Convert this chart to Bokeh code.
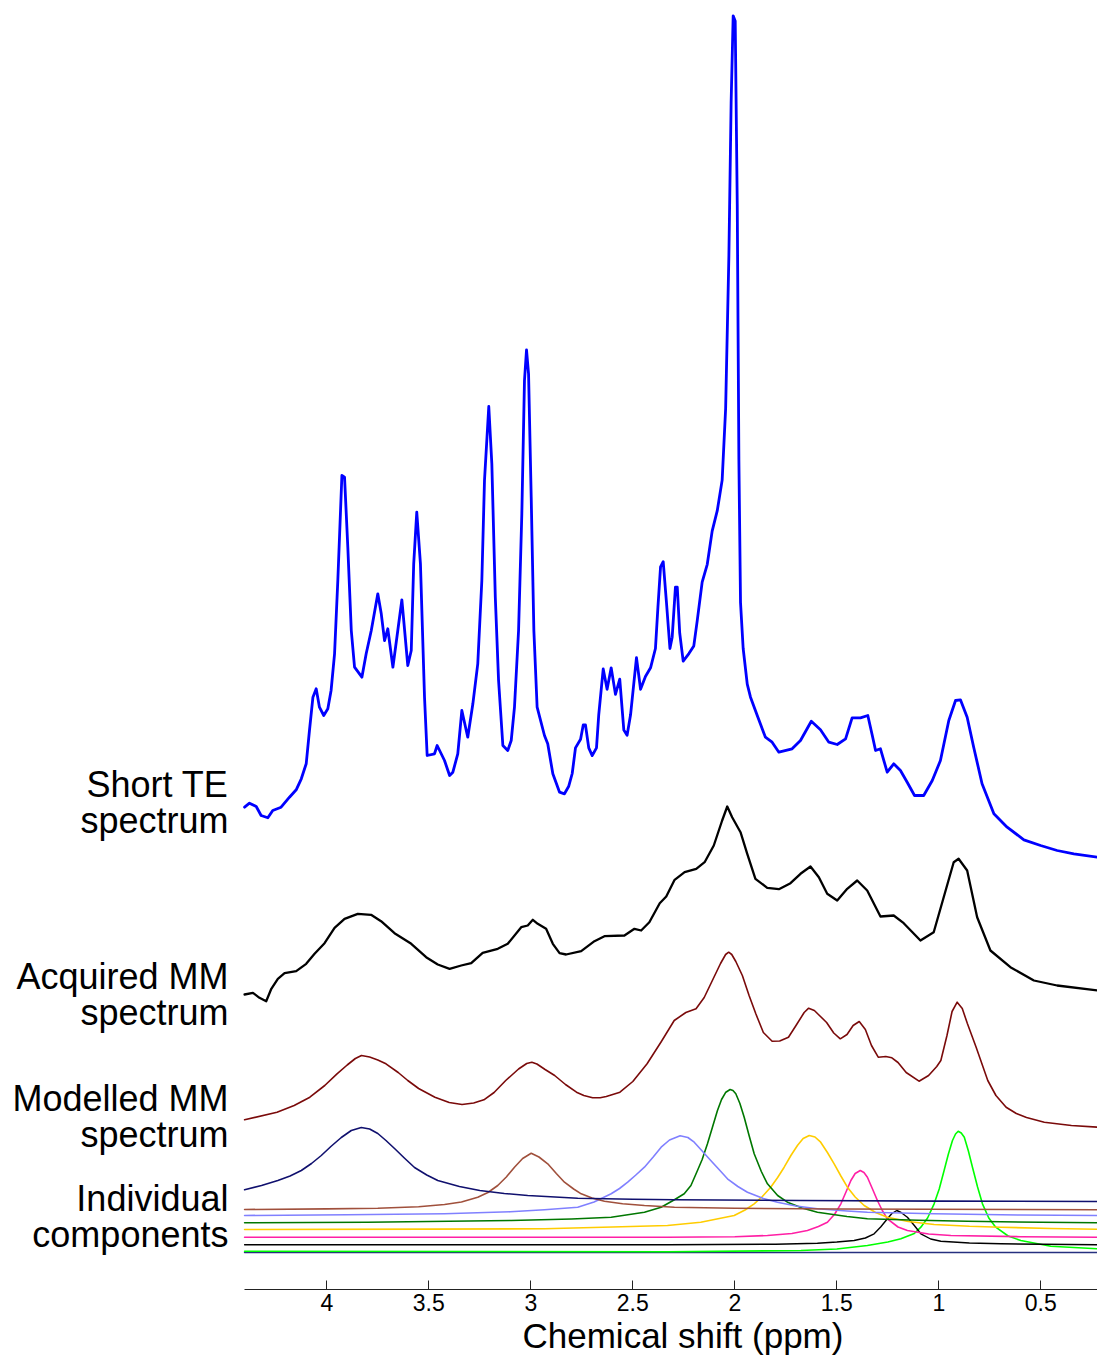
from bokeh.plotting import figure
from bokeh.models import Range1d, FixedTicker, Title
from bokeh.core.properties import value
from bokeh.embed import file_html
from bokeh.resources import INLINE

# ---------------- data (ppm, intensity above each trace's own baseline) ----------------
te_ppm = [4.403, 4.379, 4.346, 4.322, 4.289, 4.265, 4.224, 4.183, 4.150, 4.125, 4.101, 4.085, 4.068, 4.052,
          4.036, 4.015, 3.995, 3.979, 3.962, 3.946, 3.926, 3.913, 3.897, 3.880, 3.864, 3.828, 3.807, 3.782,
          3.750, 3.733, 3.717, 3.701, 3.676, 3.652, 3.632, 3.603, 3.586, 3.574, 3.559, 3.541, 3.521, 3.508,
          3.472, 3.459, 3.423, 3.398, 3.382, 3.358, 3.338, 3.309, 3.284, 3.260, 3.240, 3.227, 3.206, 3.191,
          3.174, 3.158, 3.137, 3.113, 3.096, 3.080, 3.060, 3.044, 3.031, 3.021, 3.011, 2.998, 2.985, 2.969,
          2.933, 2.917, 2.892, 2.859, 2.835, 2.814, 2.797, 2.781, 2.756, 2.743, 2.732, 2.716, 2.699, 2.678,
          2.667, 2.645, 2.626, 2.606, 2.585, 2.564, 2.544, 2.528, 2.511, 2.482, 2.462, 2.438, 2.413, 2.389,
          2.377, 2.364, 2.351, 2.335, 2.318, 2.307, 2.291, 2.282, 2.270, 2.253, 2.225, 2.201, 2.184, 2.160,
          2.135, 2.111, 2.086, 2.062, 2.045, 2.029, 2.018, 2.008, 1.998, 1.988, 1.980, 1.972, 1.959, 1.939,
          1.923, 1.890, 1.850, 1.817, 1.784, 1.719, 1.678, 1.625, 1.580, 1.539, 1.498, 1.457, 1.425, 1.384,
          1.348, 1.326, 1.310, 1.286, 1.253, 1.221, 1.188, 1.155, 1.119, 1.074, 1.032, 0.992, 0.951, 0.918,
          0.894, 0.861, 0.829, 0.788, 0.730, 0.665, 0.583, 0.501, 0.420, 0.338, 0.222]
te_val = [63.3, 67.3, 64.0, 55.0, 52.7, 60.0, 63.3, 73.3, 80.7, 91.7, 106.7, 140.0, 173.3, 181.7,
          163.3, 155.0, 161.7, 180.0, 216.7, 290.0, 395.0, 393.3, 323.3, 240.0, 203.3, 193.3, 216.7, 240.0,
          276.7, 256.7, 230.0, 241.7, 203.3, 240.0, 270.7, 205.0, 220.0, 306.7, 358.3, 306.7, 173.3, 115.0,
          116.7, 125.0, 110.0, 95.0, 98.3, 116.7, 160.0, 133.3, 166.7, 206.7, 290.0, 390.0, 464.0, 406.7,
          273.3, 190.0, 125.0, 120.0, 130.0, 163.3, 240.0, 356.7, 490.0, 520.7, 496.7, 373.3, 240.0, 163.3,
          135.0, 126.7, 96.7, 78.3, 76.7, 84.3, 97.0, 122.6, 131.2, 145.5, 145.5, 122.6, 114.9, 122.6,
          155.7, 201.6, 181.2, 202.7, 176.1, 191.4, 140.4, 135.3, 155.7, 212.9, 181.2, 194.0, 202.7, 222.0,
          262.9, 303.7, 308.8, 268.0, 222.0, 233.3, 283.3, 283.3, 237.3, 209.3, 216.9, 224.6, 250.1, 288.4,
          306.2, 339.4, 359.8, 390.4, 461.8, 614.9, 768.0, 854.7, 849.6, 665.9, 410.8, 268.0, 222.0, 186.3,
          173.3, 155.0, 133.3, 128.3, 118.3, 121.7, 130.0, 149.3, 140.7, 128.3, 126.0, 131.7, 152.7, 152.7,
          155.0, 135.0, 120.0, 121.7, 98.3, 106.7, 100.0, 88.3, 75.0, 75.0, 90.0, 110.0, 150.0, 170.0,
          170.7, 153.3, 123.3, 86.7, 56.7, 43.3, 30.7, 25.0, 20.0, 16.7, 13.3]

acq_ppm = [4.403, 4.362, 4.330, 4.297, 4.272, 4.240, 4.207, 4.150, 4.101, 4.060, 4.011, 3.962, 3.913, 3.848,
           3.783, 3.734, 3.668, 3.586, 3.513, 3.456, 3.398, 3.341, 3.292, 3.236, 3.162, 3.113, 3.047, 3.015,
           2.990, 2.966, 2.925, 2.892, 2.859, 2.827, 2.753, 2.688, 2.639, 2.541, 2.492, 2.459, 2.419, 2.368,
           2.336, 2.295, 2.246, 2.189, 2.148, 2.103, 2.062, 2.037, 2.013, 1.972, 1.939, 1.899, 1.841, 1.784,
           1.727, 1.678, 1.629, 1.588, 1.547, 1.498, 1.449, 1.400, 1.351, 1.286, 1.221, 1.172, 1.090, 1.025,
           0.976, 0.927, 0.903, 0.861, 0.812, 0.747, 0.649, 0.534, 0.420, 0.222]
acq_val = [6.0, 7.7, 2.7, -0.7, 11.7, 21.7, 27.3, 29.3, 36.7, 46.7, 57.3, 72.7, 81.7, 86.7,
           85.7, 79.3, 67.3, 56.7, 43.3, 36.0, 31.7, 35.0, 37.3, 47.7, 51.7, 56.7, 73.3, 75.0,
           80.7, 76.7, 71.7, 56.7, 47.3, 46.0, 49.3, 59.3, 64.3, 65.0, 71.7, 70.0, 78.3, 97.3,
           104.0, 120.7, 128.3, 131.7, 138.3, 155.0, 180.0, 194.0, 183.3, 168.3, 146.7, 121.7, 112.7, 111.3,
           117.3, 126.7, 134.0, 123.3, 106.7, 100.0, 111.7, 120.0, 110.0, 84.0, 85.0, 77.3, 60.0, 68.3,
           103.3, 138.3, 141.7, 130.0, 83.3, 50.0, 33.3, 20.0, 15.0, 10.0]

mod_ppm = [4.403, 4.244, 4.160, 4.083, 4.010, 3.950, 3.900, 3.860, 3.830, 3.790, 3.750, 3.710, 3.650,
           3.603, 3.550, 3.470, 3.400, 3.337, 3.280, 3.230, 3.180, 3.123, 3.060, 3.020, 2.995, 2.970,
           2.930, 2.883, 2.830, 2.776, 2.740, 2.697, 2.660, 2.630, 2.563, 2.500, 2.430, 2.360, 2.297,
           2.240, 2.190, 2.150, 2.110, 2.070, 2.045, 2.030, 2.015, 1.995, 1.963, 1.930, 1.897, 1.860,
           1.817, 1.780, 1.737, 1.700, 1.660, 1.638, 1.610, 1.580, 1.550, 1.515, 1.483, 1.450, 1.420,
           1.390, 1.360, 1.330, 1.297, 1.260, 1.230, 1.200, 1.160, 1.097, 1.050, 1.010, 0.990, 0.960,
           0.935, 0.910, 0.885, 0.860, 0.817, 0.760, 0.720, 0.670, 0.620, 0.570, 0.483, 0.350, 0.222]
mod_val = [15.7, 23.3, 30.0, 38.3, 50.0, 61.7, 70.5, 77.0, 80.0, 78.5, 75.5, 71.7, 63.0,
           55.0, 47.0, 38.3, 33.0, 31.0, 32.5, 35.7, 43.0, 55.0, 66.5, 72.0, 73.3, 71.5,
           66.0, 60.0, 51.0, 43.3, 40.0, 37.7, 37.8, 39.0, 43.3, 54.0, 71.7, 94.0, 115.0,
           123.0, 126.7, 138.0, 155.0, 172.0, 181.0, 183.3, 181.0, 174.0, 160.0, 140.0, 121.7, 103.0,
           94.3, 94.5, 98.3, 110.0, 123.0, 127.3, 125.0, 119.0, 113.0, 102.5, 96.7, 101.0, 110.0,
           114.0, 106.0, 90.0, 78.3, 79.0, 77.7, 73.0, 63.0, 54.3, 60.0, 69.0, 75.0, 100.0,
           124.0, 133.3, 127.0, 112.0, 88.3, 55.0, 40.0, 28.3, 22.0, 18.0, 13.3, 10.0, 8.3]

# individual model components
navy_ppm = [4.403, 4.320, 4.240, 4.180, 4.125, 4.075, 4.027, 3.980, 3.929, 3.880, 3.831, 3.790, 3.750,
            3.710, 3.668, 3.620, 3.570, 3.510, 3.456, 3.350, 3.250, 3.130, 3.015, 2.770, 2.500, 2.296,
            1.678, 1.000, 0.222]
navy_val = [13.7, 18.0, 23.0, 27.5, 33.0, 40.0, 48.0, 57.0, 66.0, 73.0, 76.0, 74.5, 70.0,
            63.0, 55.0, 45.5, 36.0, 28.5, 23.0, 17.0, 13.0, 10.0, 8.0, 5.3, 4.2, 3.7,
            3.0, 2.4, 2.0]

brown_ppm = [4.403, 4.000, 3.750, 3.550, 3.423, 3.340, 3.260, 3.210, 3.162, 3.120, 3.080, 3.040, 2.998,
             2.960, 2.917, 2.875, 2.835, 2.790, 2.753, 2.700, 2.639, 2.550, 2.443, 2.296, 2.000, 1.500,
             0.222]
brown_val = [1.0, 1.6, 2.3, 3.8, 6.0, 8.5, 13.3, 18.0, 25.0, 33.5, 43.3, 52.0, 57.3,
             53.5, 46.7, 37.0, 28.3, 21.5, 16.7, 12.5, 9.3, 6.8, 5.0, 3.3, 2.2, 1.5,
             0.7]

lblue_ppm = [4.403, 3.900, 3.423, 3.100, 2.933, 2.770, 2.690, 2.606, 2.565, 2.525, 2.485, 2.443, 2.400,
             2.361, 2.320, 2.268, 2.230, 2.199, 2.160, 2.118, 2.075, 2.036, 1.985, 1.938, 1.860, 1.791,
             1.700, 1.595, 1.450, 1.350, 1.023, 0.600, 0.222]
lblue_val = [0.5, 1.2, 2.2, 4.2, 6.2, 8.8, 14.0, 22.2, 27.5, 33.8, 41.0, 48.8, 59.0,
             68.8, 76.0, 80.2, 78.5, 73.8, 65.0, 55.5, 46.0, 37.2, 29.5, 23.8, 17.5, 13.8,
             10.0, 7.2, 5.0, 3.8, 2.2, 1.0, 0.5]

dgreen_ppm = [4.403, 3.800, 3.096, 2.800, 2.606, 2.443, 2.361, 2.296, 2.248, 2.215, 2.183, 2.160, 2.134,
              2.110, 2.085, 2.065, 2.044, 2.023, 2.009, 1.995, 1.975, 1.954, 1.930, 1.905, 1.870, 1.840,
              1.790, 1.742, 1.670, 1.595, 1.450, 1.350, 1.100, 0.860, 0.500, 0.222]
dgreen_val = [0.7, 1.3, 3.0, 4.5, 6.3, 11.3, 16.3, 23.7, 29.7, 38.0, 53.0, 64.0, 79.7,
              96.0, 113.0, 124.0, 131.3, 134.0, 133.0, 129.7, 120.0, 106.3, 88.0, 69.7, 52.0, 39.7,
              28.0, 21.3, 15.5, 11.3, 7.0, 4.7, 3.2, 2.3, 1.2, 0.7]

gold_ppm = [4.403, 3.500, 2.933, 2.600, 2.330, 2.167, 2.003, 1.950, 1.905, 1.865, 1.824, 1.790, 1.758,
            1.725, 1.693, 1.665, 1.635, 1.607, 1.579, 1.546, 1.513, 1.480, 1.448, 1.410, 1.366, 1.310,
            1.252, 1.150, 1.023, 0.850, 0.696, 0.450, 0.222]
gold_val = [1.0, 1.4, 1.7, 3.5, 5.0, 8.3, 15.0, 20.5, 26.7, 34.0, 43.3, 53.0, 63.3,
            75.0, 85.0, 92.0, 95.0, 93.5, 88.3, 78.0, 66.7, 54.5, 43.3, 33.5, 25.0, 18.0,
            13.3, 9.0, 6.0, 4.2, 3.3, 2.0, 1.3]

magenta_ppm = [4.403, 2.330, 2.000, 1.840, 1.720, 1.644, 1.590, 1.546, 1.510, 1.480, 1.455, 1.431, 1.410,
               1.385, 1.367, 1.350, 1.325, 1.301, 1.277, 1.252, 1.200, 1.154, 1.050, 0.941, 0.600, 0.222]
magenta_val = [0.8, 0.8, 1.3, 2.5, 4.5, 7.5, 11.5, 15.8, 24.0, 34.2, 46.0, 57.5, 64.5,
               67.5, 65.5, 60.8, 49.0, 37.5, 27.5, 19.2, 11.0, 7.5, 4.0, 2.5, 1.3, 0.8]

black_ppm = [4.403, 2.330, 1.800, 1.595, 1.500, 1.415, 1.360, 1.317, 1.285, 1.252, 1.230, 1.206, 1.185,
             1.154, 1.120, 1.088, 1.040, 0.990, 0.850, 0.696, 0.222]
black_val = [0.2, 0.2, 0.8, 1.8, 3.0, 4.5, 7.0, 11.2, 18.0, 26.2, 31.5, 34.5, 32.5,
             27.8, 19.5, 11.2, 6.0, 3.8, 2.0, 1.2, 0.2]

lime_ppm = [4.403, 2.330, 1.676, 1.500, 1.350, 1.250, 1.186, 1.120, 1.088, 1.055, 1.023, 0.998, 0.974,
            0.953, 0.933, 0.918, 0.905, 0.890, 0.875, 0.855, 0.835, 0.810, 0.786, 0.755, 0.721, 0.660,
            0.598, 0.451, 0.222]
lime_val = [0.8, 0.3, 1.5, 3.0, 6.5, 10.0, 13.2, 18.5, 24.8, 34.0, 48.2, 63.0, 81.5,
            98.0, 111.5, 118.0, 120.8, 119.0, 114.8, 101.0, 84.8, 65.0, 48.2, 34.0, 24.8, 16.0,
            11.5, 5.8, 3.2]

flat_ppm = [4.403, 0.222]
flat_val = [0.0, 0.0]

tick_values = [4, 3.5, 3, 2.5, 2, 1.5, 1, 0.5]
tick_labels = ["4", "3.5", "3", "2.5", "2", "1.5", "1", "0.5"]

row_labels = ["Short TE", "spectrum", "Acquired MM", "spectrum",
              "Modelled MM", "spectrum", "Individual", "components"]

# ---------------- display settings ----------------
traces = [
    # (ppm, values, vertical stacking offset, colour, width)
    (flat_ppm, flat_val, 37.0, "#26307f", 1.6),
    (lime_ppm, lime_val, 37.5, "#00ff00", 1.6),
    (black_ppm, black_val, 44.5, "#000000", 1.4),
    (magenta_ppm, magenta_val, 51.5, "#ff1fa5", 1.6),
    (gold_ppm, gold_val, 59.0, "#ffcc00", 1.6),
    (dgreen_ppm, dgreen_val, 66.0, "#007700", 1.6),
    (lblue_ppm, lblue_val, 73.5, "#8080ff", 1.6),
    (brown_ppm, brown_val, 79.0, "#a0503c", 1.6),
    (navy_ppm, navy_val, 86.0, "#10106e", 1.6),
    (mod_ppm, mod_val, 154.0, "#7a0a0a", 1.6),
    (acq_ppm, acq_val, 289.0, "#000000", 2.3),
    (te_ppm, te_val, 419.0, "#0000ff", 2.8),
]
label_x = 4.482                      # right edge of the row labels (ppm units)
label_y = [505, 469, 313, 277, 191, 155, 91, 55]
axis_bounds = (0.2221, 4.4034)

FONT = "Liberation Sans"

p = figure(width=1097, height=1359, output_backend="svg", toolbar_location=None,
           x_range=Range1d(5.5995, 0.2221), y_range=Range1d(0, 1289),
           y_axis_location=None, min_border_left=0, min_border_right=0,
           min_border_top=0, min_border_bottom=70)
p.outline_line_color = None
p.xgrid.visible = False
p.ygrid.visible = False
p.background_fill_color = "white"
p.border_fill_color = "white"

for xs, vs, off, col, w in traces:
    p.line(list(xs), [v + off for v in vs], line_color=col, line_width=w,
           line_join="round", line_cap="round")

p.text(x=[label_x] * len(row_labels), y=label_y, text=row_labels, text_align="right",
       text_baseline="alphabetic", text_font=value(FONT), text_font_size="36px", text_color="black")

ax = p.xaxis[0]
ax.bounds = axis_bounds
ax.ticker = FixedTicker(ticks=tick_values)
ax.major_label_overrides = {v: s for v, s in zip(tick_values, tick_labels)}
ax.major_tick_in = 9
ax.major_tick_out = 0
ax.minor_tick_line_color = None
ax.axis_line_color = "#222222"
ax.major_tick_line_color = "#222222"
ax.major_label_text_font = FONT
ax.major_label_text_font_size = "23px"
ax.major_label_text_color = "black"
ax.major_label_standoff = 4

p.add_layout(Title(text="Chemical shift (ppm)", align="left", offset=522, standoff=0,
                   text_font=FONT, text_font_size="35px", text_font_style="normal",
                   text_color="black"), "below")

open("out.html", "w").write(file_html(p, INLINE))
